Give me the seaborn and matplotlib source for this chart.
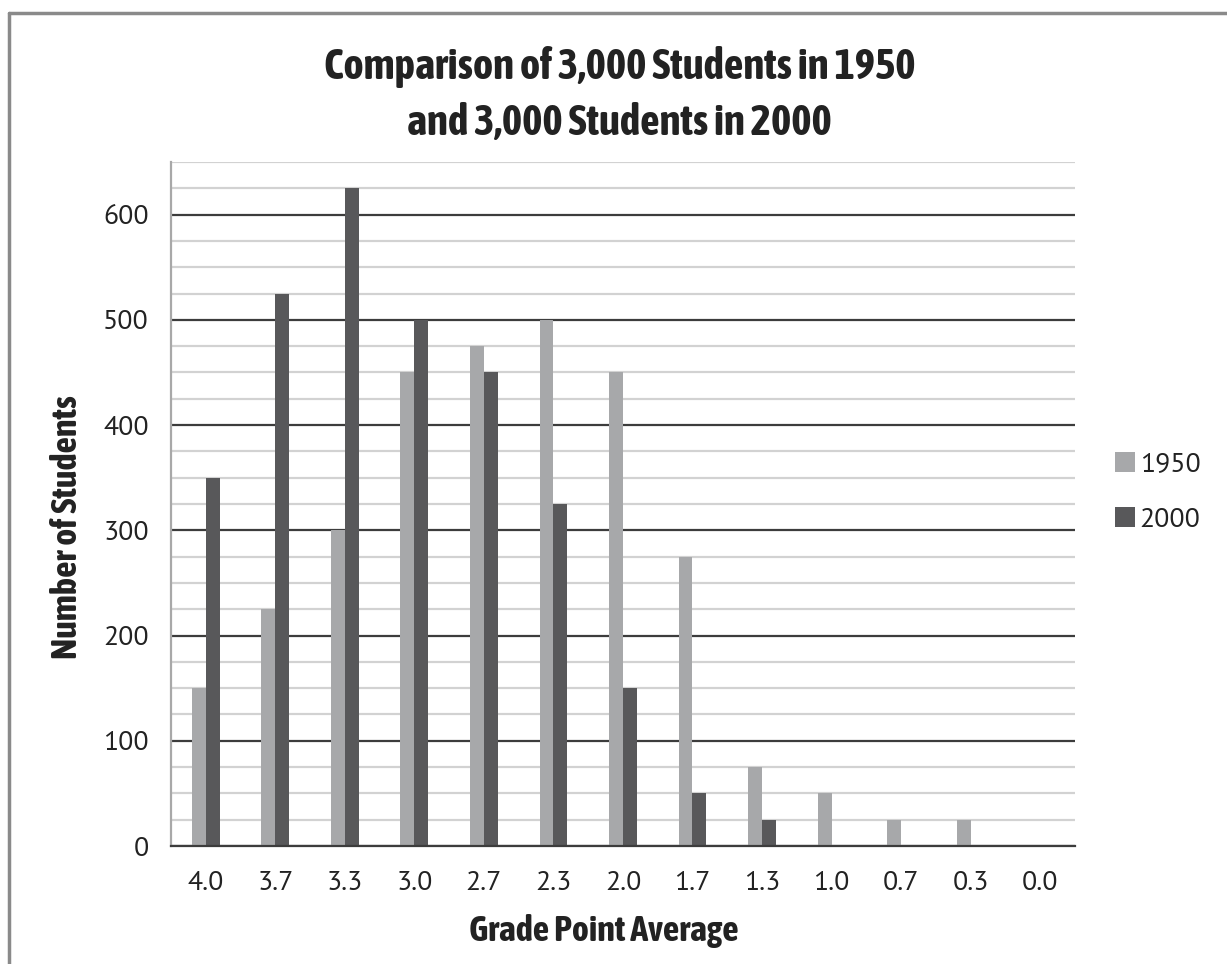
import numpy as np
import pandas as pd
import matplotlib
matplotlib.use("Agg")
import matplotlib.pyplot as plt
import seaborn as sns
from matplotlib.patches import Rectangle
from matplotlib.lines import Line2D

# Data
gpa = ["4.0", "3.7", "3.3", "3.0", "2.7", "2.3", "2.0", "1.7", "1.3", "1.0", "0.7", "0.3", "0.0"]
students_1950 = [150, 225, 300, 450, 475, 500, 450, 275, 75, 50, 25, 25, 0]
students_2000 = [350, 525, 625, 500, 450, 325, 150, 50, 25, 0, 0, 0, 0]
years = ["1950", "2000"]
colors = {"1950": "#a7a8aa", "2000": "#58585a"}

df = pd.DataFrame({
    "GPA": gpa * 2,
    "Year": ["1950"] * len(gpa) + ["2000"] * len(gpa),
    "Students": students_1950 + students_2000,
})

sns.set_style("white")
cond = ["Asap Condensed", "Barlow Condensed", "DejaVu Sans"]
plain = ["PT Sans", "Open Sans", "DejaVu Sans"]

fig = plt.figure(figsize=(12.27, 9.64), dpi=100)
ax = fig.add_axes([0.1394, 0.1224, 0.7366, 0.7096])

sns.barplot(data=df, x="GPA", y="Students", hue="Year", order=gpa, hue_order=years,
            palette=colors, width=0.4, gap=0, saturation=1, linewidth=0,
            ax=ax, legend=False)

ax.set_xlim(-0.5, len(gpa) - 0.5)
ax.set_ylim(0, 650)
ax.set_axisbelow(True)

# gridlines: dark at hundreds, light every 25
ax.set_yticks(np.arange(0, 601, 100))
ax.set_yticks(np.arange(0, 651, 25), minor=True)
ax.grid(which="minor", axis="y", color="#d2d2d2", lw=1.6)
ax.grid(which="major", axis="y", color="#3c3c3c", lw=1.6)
ax.tick_params(axis="y", which="major", length=10, width=1.6, color="#3c3c3c",
               labelsize=20, pad=6)
ax.tick_params(axis="y", which="minor", length=0)
ax.tick_params(axis="x", length=0, labelsize=20, pad=18)
for lab in ax.get_yticklabels() + ax.get_xticklabels():
    lab.set_family(plain)
    lab.set_color("#222222")

for s in ["top", "right"]:
    ax.spines[s].set_visible(False)
ax.spines["left"].set_color("#a8a8a8")
ax.spines["left"].set_linewidth(1.6)
ax.spines["bottom"].set_color("#3c3c3c")
ax.spines["bottom"].set_linewidth(1.6)

ax.set_xlabel("Grade Point Average", family=cond, fontsize=26, fontweight="bold",
              color="#222222", labelpad=14)
ax.set_ylabel("Number of Students", family=cond, fontsize=26, fontweight="bold",
              color="#222222", labelpad=14)
ax.xaxis.label.set_x(0.479)
ax.yaxis.label.set_y(0.466)

fig.text(0.505, 0.9015, "Comparison of 3,000 Students in 1950\nand 3,000 Students in 2000",
         ha="center", va="center", family=cond, fontsize=31, fontweight="bold",
         color="#222222", linespacing=1.45)

handles = [Rectangle((0, 0), 1, 1, facecolor=colors[y], edgecolor="none") for y in years]
leg = fig.legend(handles, years, loc="center left", bbox_to_anchor=(0.888, 0.49),
                 frameon=False, handlelength=0.75, handleheight=0.75, handletextpad=0.15,
                 labelspacing=1.1, prop={"family": plain, "size": 20})
for t in leg.get_texts():
    t.set_color("#222222")

# gray frame of the original figure (top and left only)
fig.add_artist(Line2D([0.007, 1.0], [0.9865, 0.9865], transform=fig.transFigure,
                      color="#8a8a8a", lw=2.5))
fig.add_artist(Line2D([0.007, 0.007], [0.0, 0.9865], transform=fig.transFigure,
                      color="#8a8a8a", lw=2.5))

fig.savefig("out.png", dpi=100, facecolor="white")
